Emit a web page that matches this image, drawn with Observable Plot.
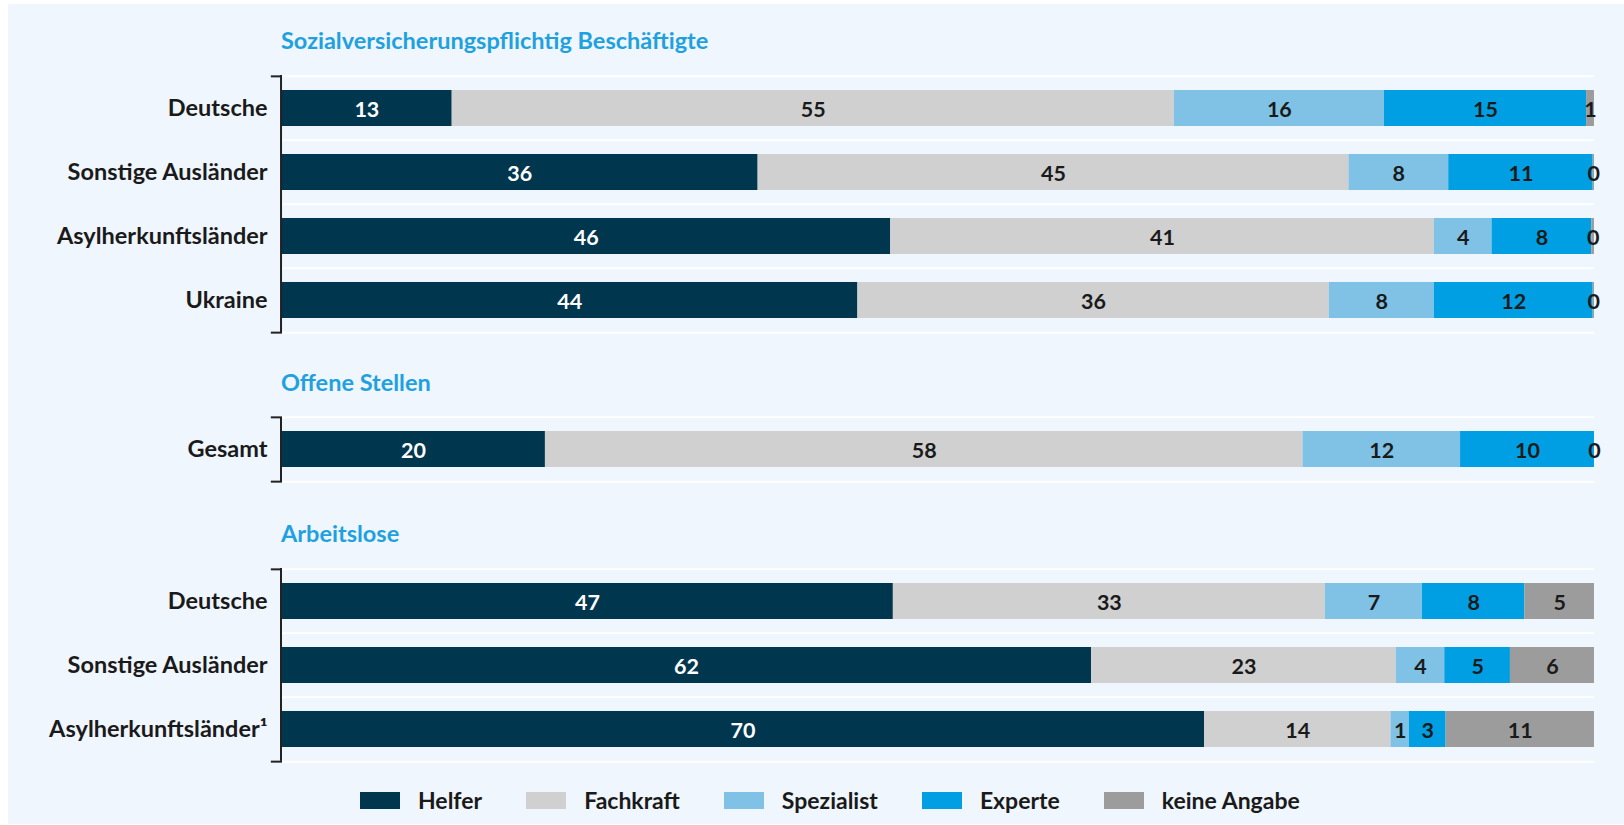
<!DOCTYPE html>
<html><head><meta charset="utf-8">
<script src="https://cdn.jsdelivr.net/npm/d3@7"></script>
<script src="https://cdn.jsdelivr.net/npm/@observablehq/plot@0.6"></script>
<style>
html,body{margin:0;padding:0;background:#fff;}
#root{position:relative;width:1624px;height:825px;overflow:hidden;font-family:Lato,sans-serif;}
#bg{position:absolute;left:8px;top:4px;width:1616px;height:820px;background:#eff6fe;}
.title{position:absolute;left:281px;font-size:23.5px;font-weight:700;color:#1fa1e0;line-height:26px;white-space:nowrap;}
.plot{position:absolute;left:0;}
#legend{position:absolute;left:360px;top:787px;display:flex;align-items:center;font-size:23px;font-weight:700;color:#1a1a1a;line-height:26px;}
#legend .sw{width:40px;height:17px;margin-right:18px;}
#legend .it{display:flex;align-items:center;margin-right:44px;}
</style></head>
<body><div id="root"><div id="bg"></div></div>
<script>
const categories = ["Helfer","Fachkraft","Spezialist","Experte","keine Angabe"];
const colors = ["#01364f","#d0d0d0","#7fc2e5","#009fe3","#9c9c9c"];
const sectionTitles = ["Sozialversicherungspflichtig Beschäftigte","Offene Stellen","Arbeitslose"];

const rowsSvB = ["Deutsche","Sonstige Ausländer","Asylherkunftsländer","Ukraine"];
const valuesSvB = [
  [13.0,55.0,16.0,15.4,0.6],
  [36.3,45.0,7.6,11.0,0.1],
  [46.4,41.4,4.4,7.6,0.2],
  [43.9,35.9,8.0,12.1,0.1]
];
const rowsOS = ["Gesamt"];
const valuesOS = [
  [20.1,57.7,12.0,10.2,0.0]
];
const rowsAL = ["Deutsche","Sonstige Ausländer","Asylherkunftsländer¹"];
const valuesAL = [
  [46.6,32.9,7.4,7.8,5.3],
  [61.7,23.2,3.7,5.0,6.4],
  [70.3,14.2,1.4,2.8,11.3]
];

const root = document.getElementById("root");
const STEP = 64.3, MT = 10, MB = 10;

function addTitle(text, cy) {
  const d = document.createElement("div");
  d.className = "title";
  d.textContent = text;
  d.style.top = (cy - 13) + "px";
  root.appendChild(d);
}

function makePlot(rows, values, top) {
  const data = [];
  rows.forEach((r, i) => categories.forEach((c, j) => data.push({row: r, cat: c, value: values[i][j]})));
  const last = rows[rows.length - 1];
  const p = Plot.plot({
    width: 1624,
    height: rows.length * STEP + MT + MB,
    marginLeft: 281, marginRight: 30, marginTop: MT, marginBottom: MB,
    x: {domain: [0, 100], axis: null},
    y: {domain: rows, paddingInner: 0.44, paddingOuter: 0.22, label: null, tickSize: 0, tickPadding: 14},
    color: {domain: categories, range: colors},
    style: {background: "transparent", fontFamily: "Lato, sans-serif", fontSize: "23.5px", fontWeight: 700, color: "#1a1a1a", overflow: "visible"},
    marks: [
      Plot.ruleY(rows, {dy: -STEP / 2, stroke: "#ffffff", strokeWidth: 2}),
      Plot.ruleY([last], {dy: STEP / 2, stroke: "#ffffff", strokeWidth: 2}),
      Plot.barX(data, {x: "value", y: "row", fill: "cat"}),
      Plot.text(data, Plot.stackX({x: "value", y: "row", text: d => String(Math.round(d.value)),
        fill: d => d.cat === "Helfer" ? "#ffffff" : "#1a1a1a", fontSize: 21.5, fontWeight: 700, dy: 1.5})),
      Plot.ruleX([0], {stroke: "#222", strokeWidth: 2, dx: -0.5}),
      Plot.ruleY([rows[0]], {dy: -STEP / 2, x1: -0.7, x2: 0, stroke: "#222", strokeWidth: 2, strokeLinecap: "square"}),
      Plot.ruleY([last], {dy: STEP / 2, x1: -0.7, x2: 0, stroke: "#222", strokeWidth: 2, strokeLinecap: "square"})
    ]
  });
  p.classList.add("plot");
  p.style.top = (top - MT) + "px";
  root.appendChild(p);
}

addTitle(sectionTitles[0], 39.5);
makePlot(rowsSvB, valuesSvB, 74.6);
addTitle(sectionTitles[1], 382);
makePlot(rowsOS, valuesOS, 417);
addTitle(sectionTitles[2], 533);
makePlot(rowsAL, valuesAL, 567.5);

const lg = document.createElement("div");
lg.id = "legend";
categories.forEach((c, i) => {
  const it = document.createElement("div");
  it.className = "it";
  const sw = document.createElement("div");
  sw.className = "sw";
  sw.style.background = colors[i];
  const t = document.createElement("span");
  t.textContent = c;
  it.appendChild(sw); it.appendChild(t);
  lg.appendChild(it);
});
root.appendChild(lg);
</script>
</body></html>
